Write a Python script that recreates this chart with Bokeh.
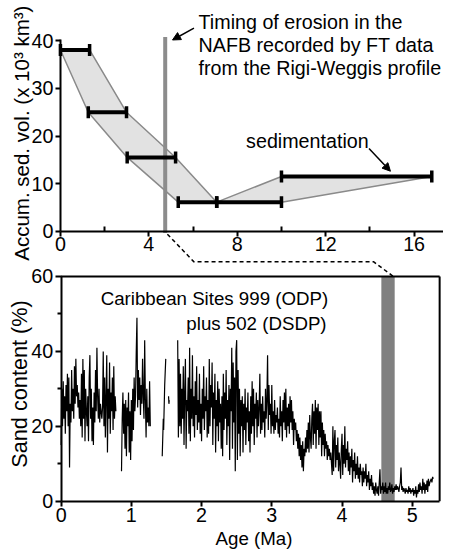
from math import pi
from bokeh.plotting import figure
from bokeh.models import (Range1d, LinearAxis, FixedTicker, Arrow, NormalHead, Label)
from bokeh.embed import file_html
from bokeh.resources import INLINE

FONT = "Liberation Sans"

# ---------------- top panel data (Accum. sed. vol.) ----------------
bar_lo = [0.0, 1.26, 3.02, 5.33, 7.07, 10.0]
bar_hi = [1.32, 2.99, 5.21, 7.07, 10.0, 16.8]
bar_vol = [38.1, 25.0, 15.5, 6.1, 6.1, 11.5]
env_age = [0.0, 1.32, 2.99, 5.21, 7.07, 10.0, 16.8, 10.0, 7.07, 5.33, 3.02, 1.26, 0.0]
env_vol = [38.1, 38.1, 25.0, 15.5, 6.1, 11.5, 11.5, 6.1, 6.1, 6.1, 15.5, 25.0, 38.1]
ft_age = 4.74
ft_top = 40.8
top_xticks = [0, 4, 8, 12, 16]
top_xminor = [2, 6, 10, 14]
top_yticks = [0, 10, 20, 30, 40]

# ---------------- bottom panel data (Sand content) ----------------
age_a = [0.00, 0.01, 0.02, 0.03, 0.04, 0.05, 0.06, 0.07, 0.08, 0.09,
         0.10, 0.11, 0.12, 0.13, 0.14, 0.15, 0.16, 0.17, 0.18, 0.19,
         0.20, 0.21, 0.22, 0.23, 0.24, 0.25, 0.26, 0.27, 0.28, 0.29,
         0.30, 0.31, 0.32, 0.33, 0.34, 0.35, 0.36, 0.37, 0.38, 0.39,
         0.40, 0.41, 0.42, 0.43, 0.44, 0.45, 0.46, 0.47, 0.48, 0.49,
         0.50, 0.51, 0.52, 0.53, 0.54, 0.55, 0.56, 0.57, 0.58, 0.59,
         0.60, 0.61, 0.62, 0.63, 0.64, 0.65, 0.66, 0.67, 0.68, 0.69,
         0.70, 0.71, 0.72, 0.73, 0.74, 0.75, 0.76, 0.77, 0.78]
sand_a = [15, 30, 20, 32, 22, 28, 18, 31, 24, 34,
          20, 33, 9, 26, 21, 35, 24, 30, 22, 36,
          26, 38, 28, 31, 25, 29, 22, 27, 20, 34,
          17, 38, 22, 35, 16, 30, 24, 20, 28, 16,
          33, 39, 22, 30, 16, 25, 15, 29, 21, 35,
          24, 41, 28, 22, 30, 21, 26, 24, 22, 25,
          40, 20, 33, 17, 28, 39, 13, 30, 22, 37,
          18, 29, 24, 33, 19, 36, 22, 28, 24]

age_b = [0.86, 0.87, 0.88, 0.89, 0.90, 0.91, 0.92, 0.93, 0.94, 0.95,
         0.96, 0.97, 0.98, 0.99, 1.00, 1.01, 1.02, 1.03, 1.04, 1.05,
         1.06, 1.07, 1.08, 1.09, 1.10, 1.11, 1.12, 1.13, 1.14, 1.15,
         1.16, 1.17, 1.18, 1.19, 1.20, 1.21, 1.22, 1.23, 1.24, 1.25,
         1.26, 1.27]
sand_b = [8, 22, 29, 18, 26, 14, 27, 12, 25, 20,
          29, 13, 24, 11, 27, 16, 30, 19, 33, 24,
          28, 40, 49, 25, 35, 27, 33, 23, 31, 26,
          38, 28, 22, 43, 27, 17, 30, 21, 25, 20,
          32, 20]

age_c = [1.44, 1.455, 1.46, 1.475, 1.49]
sand_c = [12, 22, 19, 31, 38]

age_d = [1.53, 1.535, 1.54]
sand_d = [28, 26, 27]

age_e = [1.66, 1.67, 1.68, 1.69,
         1.70, 1.71, 1.72, 1.73, 1.74, 1.75, 1.76, 1.77, 1.78, 1.79,
         1.80, 1.81, 1.82, 1.83, 1.84, 1.85, 1.86, 1.87, 1.88, 1.89,
         1.90, 1.91, 1.92, 1.93, 1.94, 1.95, 1.96, 1.97, 1.98, 1.99,
         2.00, 2.01, 2.02, 2.03, 2.04, 2.05, 2.06, 2.07, 2.08, 2.09,
         2.10, 2.11, 2.12, 2.13, 2.14, 2.15, 2.16, 2.17, 2.18, 2.19,
         2.20, 2.21, 2.22, 2.23, 2.24, 2.25, 2.26, 2.27, 2.28, 2.29,
         2.30, 2.31, 2.32, 2.33, 2.34, 2.35, 2.36, 2.37, 2.38, 2.39,
         2.40, 2.41, 2.42, 2.43, 2.44, 2.45, 2.46, 2.47, 2.48, 2.49,
         2.50, 2.51, 2.52, 2.53, 2.54, 2.55, 2.56, 2.57, 2.58, 2.59,
         2.60, 2.61, 2.62, 2.63, 2.64, 2.65, 2.66, 2.67, 2.68, 2.69,
         2.70, 2.71, 2.72, 2.73, 2.74, 2.75, 2.76, 2.77, 2.78, 2.79,
         2.80, 2.81, 2.82, 2.83, 2.84, 2.85, 2.86, 2.87, 2.88, 2.89,
         2.90, 2.91, 2.92, 2.93, 2.94, 2.95, 2.96, 2.97, 2.98, 2.99,
         3.00, 3.01, 3.02, 3.03, 3.04, 3.05, 3.06, 3.07, 3.08, 3.09,
         3.10, 3.11, 3.12, 3.13, 3.14, 3.15, 3.16, 3.17, 3.18, 3.19,
         3.20, 3.21, 3.22, 3.23, 3.24, 3.25, 3.26, 3.27, 3.28, 3.29,
         3.30, 3.31, 3.32, 3.33, 3.34, 3.35, 3.36, 3.37, 3.38, 3.39,
         3.40, 3.41, 3.42, 3.43, 3.44, 3.45, 3.46, 3.47, 3.48, 3.49,
         3.50, 3.51, 3.52, 3.53, 3.54, 3.55, 3.56, 3.57, 3.58, 3.59,
         3.60, 3.61, 3.62, 3.63, 3.64, 3.65, 3.66, 3.67, 3.68, 3.69,
         3.70, 3.71, 3.72, 3.73, 3.74, 3.75, 3.76, 3.77, 3.78, 3.79,
         3.80, 3.81, 3.82, 3.83, 3.84, 3.85, 3.86, 3.87, 3.88, 3.89,
         3.90, 3.91, 3.92, 3.93, 3.94, 3.95, 3.96, 3.97, 3.98, 3.99,
         4.00, 4.01, 4.02, 4.03, 4.04, 4.05, 4.06, 4.07, 4.08, 4.09,
         4.10, 4.11, 4.12, 4.13, 4.14, 4.15, 4.16, 4.17, 4.18, 4.19,
         4.20, 4.21, 4.22, 4.23, 4.24, 4.25, 4.26, 4.27, 4.28, 4.29,
         4.30, 4.31, 4.32, 4.33, 4.34, 4.35, 4.36, 4.37, 4.38, 4.39,
         4.40, 4.41, 4.42, 4.43, 4.44, 4.45, 4.46, 4.47, 4.48, 4.49,
         4.50, 4.51, 4.52, 4.53, 4.54, 4.55, 4.56, 4.57, 4.58, 4.59,
         4.60, 4.61, 4.62, 4.63, 4.64, 4.65, 4.66, 4.67, 4.68, 4.69,
         4.70, 4.71, 4.72, 4.73, 4.74, 4.75, 4.76, 4.77, 4.78, 4.79,
         4.80, 4.81, 4.82, 4.83, 4.84, 4.85, 4.86, 4.87, 4.88, 4.89,
         4.90, 4.91, 4.92, 4.93, 4.94, 4.95, 4.96, 4.97, 4.98, 4.99,
         5.00, 5.01, 5.02, 5.03, 5.04, 5.05, 5.06, 5.07, 5.08, 5.09,
         5.10, 5.11, 5.12, 5.13, 5.14, 5.15, 5.16, 5.17, 5.18, 5.19,
         5.20, 5.21, 5.22, 5.23, 5.24, 5.25, 5.26, 5.27, 5.28, 5.29,
         5.30]
sand_e = [43, 17, 38, 20,
          34, 18, 30, 22, 36, 15, 29, 38, 14, 27,
          24, 33, 18, 41, 16, 30, 22, 39, 20, 28,
          17, 32, 23, 36, 19, 27, 21, 34, 18, 26,
          16, 30, 22, 36, 19, 28, 24, 33, 17, 27,
          18, 38, 20, 31, 25, 37, 15, 29, 22, 34,
          13, 27, 20, 32, 16, 30, 21, 26, 14, 28,
          12, 34, 19, 29, 22, 35, 15, 27, 20, 31,
          11, 30, 24, 41, 14, 37, 21, 33, 8, 40,
          43, 11, 35, 18, 30, 12, 27, 20, 28, 13,
          26, 19, 30, 15, 25, 21, 29, 16, 24, 13,
          28, 18, 32, 20, 30, 15, 26, 22, 29, 17,
          27, 20, 25, 34, 18, 26, 19, 28, 21, 24,
          17, 30, 22, 27, 39, 19, 31, 23, 26, 18,
          31, 20, 24, 18, 27, 19, 23, 21, 25, 18,
          22, 17, 28, 20, 24, 16, 27, 21, 29, 19,
          30, 17, 25, 20, 26, 18, 28, 21, 27, 19,
          24, 15, 22, 19, 21, 16, 19, 14, 18, 12,
          17, 11, 15, 9, 16, 8, 14, 12, 17, 13,
          19, 14, 21, 13, 23, 17, 14, 22, 26, 15,
          24, 18, 27, 14, 25, 19, 26, 15, 24, 17,
          24, 12, 21, 15, 19, 12, 18, 14, 16, 11,
          15, 12, 14, 11, 13, 10, 7, 20, 8, 16,
          19, 9, 15, 11, 17, 8, 13, 10, 6, 14,
          18, 7, 15, 10, 20, 9, 14, 11, 16, 8,
          13, 7, 12, 9, 14, 5, 11, 8, 13, 6,
          10, 7, 12, 6, 9, 5, 10, 7, 8, 4,
          9, 5, 8, 6, 10, 4, 7, 5, 8, 3,
          6, 4, 7, 3, 5, 2, 4, 1.5, 5, 3,
          2, 4, 1.5, 5, 8.5, 2, 4, 3, 5, 2,
          4, 2.5, 5, 2, 3.5, 2, 4, 3, 5, 2.5,
          3, 4.5, 2, 3.5, 2.5, 4, 3, 4.5, 3, 4,
          3.5, 2.5, 4, 5, 9, 3, 4, 2.5, 3.5, 3,
          2, 3.5, 2.5, 3, 2, 4, 2.5, 3.5, 2, 3,
          2.5, 3.5, 1.5, 3, 2, 4, 1, 3, 2, 4.5,
          2.5, 5, 3, 4, 2, 6, 3, 5, 2, 4.5,
          3, 5.5, 2.5, 6, 4, 5, 5.5, 6, 5, 6.5,
          6]

band_lo, band_hi = 4.56, 4.75
bot_xmax = 5.39
bot_ymax = 60
bot_xticks = [0, 1, 2, 3, 4, 5]
bot_yticks = [0, 20, 40, 60]
bot_yminor = [10, 30, 50]

# dashed connector (annotation) in bottom-panel coordinates
conn_age = [1.513, 1.892, 4.452, 4.731]
conn_sand = [71.3, 63.9, 63.9, 60.0]

W, H = 443, 549
p = figure(width=W, height=H, output_backend="svg", toolbar_location=None,
           x_axis_type=None, y_axis_type=None,
           x_range=Range1d(-0.863, 5.445), y_range=Range1d(-12.89, 133.68),
           min_border=0, min_border_left=0, min_border_right=0, min_border_top=0,
           min_border_bottom=0)
p.extra_x_ranges = {"tx": Range1d(-2.711, 17.33)}
p.extra_y_ranges = {"ty": Range1d(-66.94, 48.50)}
p.outline_line_color = None
p.background_fill_color = "white"
p.border_fill_color = "white"

def style_axis(ax, size="19.7px"):
    ax.axis_line_width = 2
    ax.axis_line_color = "black"
    ax.major_tick_line_width = 2
    ax.minor_tick_line_width = 2
    ax.major_tick_line_color = "black"
    ax.minor_tick_line_color = "black"
    ax.major_label_text_font = FONT
    ax.major_label_text_font_size = size
    ax.major_label_text_color = "black"

# bottom x axis (Age)
ax = LinearAxis(fixed_location=0, bounds=(0, bot_xmax), ticker=FixedTicker(ticks=bot_xticks, minor_ticks=[]))
style_axis(ax)
ax.major_tick_in = 0
ax.major_tick_out = 5
ax.major_label_standoff = 2
p.add_layout(ax, "below")

# left y axis (Sand)
ay = LinearAxis(fixed_location=0, bounds=(0, bot_ymax), ticker=FixedTicker(ticks=bot_yticks, minor_ticks=bot_yminor))
style_axis(ay)
ay.major_tick_in = 0
ay.major_tick_out = 6
ay.minor_tick_in = 0
ay.minor_tick_out = 4
ay.major_label_standoff = 2
p.add_layout(ay, "left")

# top panel axes
tax = LinearAxis(x_range_name="tx", y_range_name="ty", fixed_location=0,
                 bounds=(0, 17.33), ticker=FixedTicker(ticks=top_xticks, minor_ticks=top_xminor))
style_axis(tax)
tax.major_tick_in = 0
tax.major_tick_out = 5
tax.minor_tick_in = 5
tax.minor_tick_out = 0
tax.major_label_standoff = 1
p.add_layout(tax, "below")

tay = LinearAxis(x_range_name="tx", y_range_name="ty", fixed_location=0,
                 bounds=(0, 40.3), ticker=FixedTicker(ticks=top_yticks, minor_ticks=[]))
style_axis(tay)
tay.major_tick_in = 0
tay.major_tick_out = 5
tay.major_label_standoff = 2
p.add_layout(tay, "left")

# ---- top panel glyphs ----
p.patch(env_age, env_vol, x_range_name="tx", y_range_name="ty",
        fill_color="#e2e2e2", line_color="#8a8a8a", line_width=1.5)
p.segment(x0=[ft_age], y0=[-0.4], x1=[ft_age], y1=[ft_top], x_range_name="tx", y_range_name="ty",
          line_color="#8c8c8c", line_width=4)
# horizontal range bars with end caps
cap = 1.25
p.segment(x0=bar_lo, y0=bar_vol, x1=bar_hi, y1=bar_vol, x_range_name="tx", y_range_name="ty",
          line_color="black", line_width=4)
cap_x = bar_lo + bar_hi
cap_y = bar_vol + bar_vol
p.segment(x0=cap_x, y0=[v - cap for v in cap_y], x1=cap_x, y1=[v + cap for v in cap_y],
          x_range_name="tx", y_range_name="ty", line_color="black", line_width=3.5)

p.add_layout(Arrow(end=NormalHead(size=8, fill_color="black", line_color="black"),
                   x_start=6.04, y_start=42.7, x_end=5.07, y_end=40.2,
                   x_range_name="tx", y_range_name="ty", line_width=1.5))
p.add_layout(Arrow(end=NormalHead(size=8, fill_color="black", line_color="black"),
                   x_start=13.96, y_start=17.4, x_end=14.93, y_end=12.6,
                   x_range_name="tx", y_range_name="ty", line_width=1.5))

for txt, yy in [("Timing of erosion in the", 43.9),
                ("NAFB recorded by FT data", 39.1),
                ("from the Rigi-Weggis profile", 34.3)]:
    p.add_layout(Label(x=6.25, y=yy, text=txt, x_range_name="tx", y_range_name="ty",
                       text_font=FONT, text_font_size="19.7px", text_baseline="middle",
                       text_align="left", text_color="black"))
p.add_layout(Label(x=8.4, y=18.9, text="sedimentation", x_range_name="tx", y_range_name="ty",
                   text_font=FONT, text_font_size="19.7px", text_baseline="middle",
                   text_align="left", text_color="black"))
p.add_layout(Label(x=-1.78, y=20.6, text="Accum. sed. vol. (x 10³ km³)", angle=pi / 2,
                   x_range_name="tx", y_range_name="ty",
                   text_font=FONT, text_font_size="20.5px", text_baseline="middle",
                   text_align="center", text_color="black"))

# ---- bottom panel glyphs ----
p.quad(left=[band_lo], right=[band_hi], bottom=[0], top=[bot_ymax],
       fill_color="#808080", line_color=None)
for aa, ss in [(age_a, sand_a), (age_b, sand_b), (age_c, sand_c), (age_d, sand_d), (age_e, sand_e)]:
    p.line(aa, ss, line_color="black", line_width=1.2)
p.segment(x0=[0, bot_xmax], y0=[bot_ymax, 0], x1=[bot_xmax, bot_xmax], y1=[bot_ymax, bot_ymax],
          line_color="black", line_width=2)
p.line(conn_age, conn_sand, line_color="black", line_width=1.5, line_dash="4 3")

p.add_layout(Label(x=0.564, y=54.2, text="Caribbean Sites 999 (ODP)",
                   text_font=FONT, text_font_size="18.7px", text_baseline="middle",
                   text_align="left", text_color="black"))
p.add_layout(Label(x=3.78, y=47.4, text="plus 502 (DSDP)",
                   text_font=FONT, text_font_size="18.7px", text_baseline="middle",
                   text_align="right", text_color="black"))
p.add_layout(Label(x=2.746, y=-10.0, text="Age (Ma)",
                   text_font=FONT, text_font_size="18.7px", text_baseline="middle",
                   text_align="center", text_color="black"))
p.add_layout(Label(x=-0.597, y=31.3, text="Sand content (%)", angle=pi / 2,
                   text_font=FONT, text_font_size="21.7px", text_baseline="middle",
                   text_align="center", text_color="black"))

open("out.html", "w").write(file_html(p, INLINE))
